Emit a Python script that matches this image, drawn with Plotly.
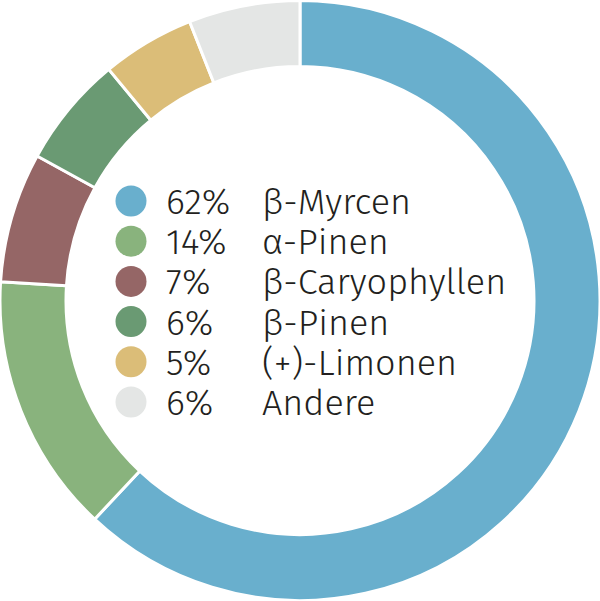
import plotly.graph_objects as go

# Data
labels = ['β-Myrcen', 'α-Pinen', 'β-Caryophyllen', 'β-Pinen', '(+)-Limonen', 'Andere']
values = [62, 14, 7, 6, 5, 6]
colors = ['#69afcd', '#89b37d', '#956666', '#6a9a73', '#dbbd78', '#e4e6e5']

W, H = 600, 601
font_family = 'Fira Sans, Noto Sans, Open Sans, sans-serif'
txt_font = dict(size=36, color='#231f20', family=font_family, weight=300)

fig = go.Figure(go.Pie(
    labels=labels, values=values, hole=0.78, sort=False,
    direction='clockwise', rotation=0,
    marker=dict(colors=colors, line=dict(color='white', width=3)),
    textinfo='none', hoverinfo='label+percent', showlegend=False,
))

# legend drawn inside the hole
row0, pitch = 201, 40.2
annotations = []
shapes = []
for i, (lab, val, col) in enumerate(zip(labels, values, colors)):
    yc = row0 + i * pitch
    shapes.append(dict(type='circle', xref='paper', yref='paper',
                       x0=(131 - 15.5) / W, x1=(131 + 15.5) / W,
                       y0=1 - (yc + 15.5) / H, y1=1 - (yc - 15.5) / H,
                       fillcolor=col, line=dict(width=0)))
    annotations.append(dict(text=f'{val}%', x=164 / W, y=1 - (yc + 1) / H,
                            xref='paper', yref='paper', xanchor='left', yanchor='middle',
                            showarrow=False, font=txt_font))
    annotations.append(dict(text=lab, x=260 / W, y=1 - (yc + 1) / H,
                            xref='paper', yref='paper', xanchor='left', yanchor='middle',
                            showarrow=False, font=txt_font))

fig.update_layout(width=W, height=H, margin=dict(l=0, r=0, t=0, b=0),
                  paper_bgcolor='white', plot_bgcolor='white',
                  annotations=annotations, shapes=shapes)

# the page body has an 8px default margin; drop it so the figure fills the window
fig.write_html('out.html', config={'displayModeBar': False},
               post_script="document.body.style.margin='0';")
